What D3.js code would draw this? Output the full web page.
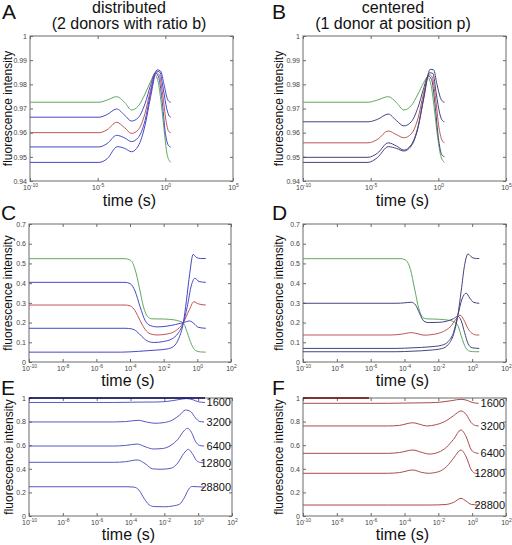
<!DOCTYPE html>
<html><head><meta charset="utf-8">
<script src="https://cdn.jsdelivr.net/npm/d3@7"></script>
<style>body{margin:0;background:#fff}svg{display:block}text{font-family:"Liberation Sans",Arial,sans-serif}</style>
</head><body><svg id="c" width="512" height="545"></svg>
<script>
// ---------- tick values ----------
const xTicksRow1 = [-10, -5, 0, 5];
const xTicksRow23 = [-10, -8, -6, -4, -2, 0, 2];
const yTicksAB = [0.94, 0.95, 0.96, 0.97, 0.98, 0.99, 1];
const yTicksCD = [0, 0.1, 0.2, 0.3, 0.4, 0.5, 0.6, 0.7];
const yTicksEF = [0, 0.2, 0.4, 0.6, 0.8, 1];
const levelLabels = ["1600", "3200", "6400", "12800", "28800"];

// ---------- data: [log10(time in s), fluorescence intensity] ----------
const A_green = [[-10,.9726],[-4.9,.9726],[-4.3,.9735],[-3.6,.9749],[-3.0,.9725],[-2.5,.9694],[-2.0,.9710],[-1.5,.9760],[-1.1,.9810],[-0.8,.9840],[-0.55,.9815],[-0.3,.9720],[-0.05,.9590],[0.15,.9505],[0.4,.9477]];
const A_blue1 = [[-10,.9664],[-4.9,.9664],[-4.3,.9675],[-3.6,.9698],[-3.0,.9672],[-2.5,.9648],[-2.0,.9662],[-1.5,.9720],[-1.1,.9795],[-0.75,.9848],[-0.5,.9830],[-0.25,.9740],[0.0,.9600],[0.2,.9550],[0.4,.9540]];
const A_red = [[-10,.9600],[-4.9,.9600],[-4.3,.9612],[-3.6,.9643],[-3.0,.9620],[-2.5,.9597],[-2.0,.9612],[-1.5,.9680],[-1.1,.9775],[-0.7,.9850],[-0.45,.9840],[-0.2,.9760],[0.05,.9650],[0.25,.9605],[0.4,.9600]];
const A_blue3 = [[-10,.9541],[-4.9,.9541],[-4.3,.9555],[-3.6,.9589],[-3.0,.9578],[-2.5,.9563],[-2.0,.9580],[-1.5,.9650],[-1.1,.9760],[-0.65,.9855],[-0.4,.9850],[-0.15,.9780],[0.1,.9700],[0.3,.9668],[0.4,.9664]];
const A_blue4 = [[-10,.9477],[-4.9,.9477],[-4.3,.9492],[-3.55,.9542],[-3.0,.9535],[-2.5,.9521],[-2.0,.9545],[-1.5,.9630],[-1.1,.9745],[-0.6,.9860],[-0.35,.9855],[-0.1,.9800],[0.15,.9740],[0.3,.9728],[0.4,.9726]];

const B_green = [[-10,.9726],[-5.2,.9726],[-4.5,.9735],[-3.7,.9749],[-3.1,.9725],[-2.55,.9694],[-2.0,.9712],[-1.5,.9760],[-1.1,.9805],[-0.8,.9830],[-0.55,.9800],[-0.3,.9700],[-0.05,.9580],[0.2,.9500],[0.45,.9477]];
const B_blue1 = [[-10,.9645],[-5.2,.9645],[-4.5,.9655],[-3.7,.9677],[-3.1,.9650],[-2.55,.9628],[-2.0,.9645],[-1.5,.9705],[-1.1,.9780],[-0.75,.9835],[-0.5,.9820],[-0.25,.9720],[0.0,.9580],[0.25,.9510],[0.45,.9500]];
const B_red = [[-10,.9558],[-5.2,.9558],[-4.5,.9572],[-3.7,.9607],[-3.1,.9592],[-2.55,.9579],[-2.0,.9595],[-1.5,.9660],[-1.1,.9760],[-0.7,.9840],[-0.45,.9830],[-0.2,.9740],[0.05,.9620],[0.3,.9565],[0.45,.9558]];
const B_blue3 = [[-10,.9498],[-5.2,.9498],[-4.5,.9515],[-3.7,.9558],[-3.1,.9545],[-2.55,.9528],[-2.0,.9550],[-1.5,.9625],[-1.1,.9740],[-0.65,.9848],[-0.4,.9845],[-0.15,.9760],[0.1,.9680],[0.3,.9650],[0.45,.9645]];
const B_blue4 = [[-10,.9477],[-5.2,.9477],[-4.5,.9497],[-3.7,.9542],[-3.1,.9535],[-2.55,.9524],[-2.0,.9545],[-1.5,.9620],[-1.1,.9735],[-0.6,.9862],[-0.35,.9860],[-0.1,.9800],[0.15,.9745],[0.35,.9728],[0.45,.9726]];

const C_green = [[-10,.524],[-4.3,.524],[-3.95,.515],[-3.7,.47],[-3.45,.38],[-3.2,.28],[-2.95,.23],[-2.7,.219],[-2.0,.218],[-1.4,.214],[-1.1,.208],[-0.83,.198],[-0.6,.15],[-0.35,.09],[-0.1,.058],[0.2,.051],[0.5,.05]];
const C_blue1 = [[-10,.404],[-4.3,.404],[-4.0,.398],[-3.7,.36],[-3.4,.28],[-3.1,.21],[-2.8,.185],[-2.4,.178],[-1.8,.182],[-1.3,.19],[-0.83,.200],[-0.45,.208],[-0.2,.195],[0.05,.176],[0.5,.171]];
const C_red = [[-10,.289],[-4.3,.289],[-4.0,.285],[-3.7,.26],[-3.4,.21],[-3.1,.165],[-2.8,.143],[-2.4,.137],[-1.8,.142],[-1.3,.158],[-0.83,.200],[-0.5,.26],[-0.2,.306],[0.05,.295],[0.5,.289]];
const C_blue3 = [[-10,.171],[-4.3,.171],[-3.9,.168],[-3.6,.155],[-3.3,.13],[-3.0,.108],[-2.6,.099],[-2.0,.104],[-1.5,.118],[-1.15,.145],[-0.83,.200],[-0.6,.28],[-0.35,.39],[-0.14,.425],[0.1,.408],[0.5,.404]];
const C_blue4 = [[-10,.05],[-4.5,.05],[-3.5,.054],[-2.5,.06],[-1.8,.066],[-1.4,.08],[-1.1,.12],[-0.83,.200],[-0.65,.31],[-0.45,.45],[-0.25,.546],[-0.05,.53],[0.2,.525],[0.5,.525]];

const D_green = [[-10,.524],[-4.2,.524],[-3.9,.515],[-3.65,.47],[-3.4,.37],[-3.15,.27],[-2.9,.225],[-2.7,.219],[-2.0,.217],[-1.4,.212],[-1.1,.205],[-0.85,.185],[-0.6,.12],[-0.4,.075],[-0.15,.055],[0.2,.052],[0.42,.052]];
const D_blue1 = [[-10,.298],[-4.5,.298],[-4.0,.300],[-3.6,.303],[-3.35,.29],[-3.1,.245],[-2.85,.207],[-2.6,.2],[-2.0,.201],[-1.5,.207],[-1.1,.22],[-0.85,.232],[-0.65,.21],[-0.45,.15],[-0.25,.095],[0,.072],[0.42,.069]];
const D_red = [[-10,.137],[-4.8,.137],[-4.2,.141],[-3.6,.149],[-3.2,.143],[-2.85,.136],[-2.3,.140],[-1.7,.155],[-1.3,.178],[-0.95,.218],[-0.72,.238],[-0.5,.215],[-0.25,.17],[0.0,.145],[0.26,.137],[0.42,.137]];
const D_blue3 = [[-10,.069],[-4.5,.069],[-3.5,.072],[-2.5,.077],[-1.8,.085],[-1.4,.105],[-1.1,.15],[-0.85,.235],[-0.6,.32],[-0.35,.349],[-0.15,.325],[0.1,.302],[0.42,.298]];
const D_blue4 = [[-10,.052],[-4.5,.052],[-3.5,.055],[-2.5,.06],[-1.8,.068],[-1.4,.09],[-1.1,.14],[-0.85,.235],[-0.65,.36],[-0.45,.49],[-0.25,.548],[0.0,.53],[0.25,.525],[0.42,.525]];

const E_top = [[-10,1],[0.4,1]];
const E_1600 = [[-10,.962],[-5,.962],[-3.5,.965],[-2.5,.966],[-1.8,.972],[-1.2,.985],[-0.7,.995],[-0.3,.985],[0.0,.968],[0.4,.962]];
const E_3200 = [[-10,.797],[-5,.797],[-4.3,.800],[-3.55,.811],[-3.0,.795],[-2.55,.786],[-2.0,.792],[-1.5,.815],[-1.1,.855],[-0.75,.898],[-0.45,.885],[-0.15,.83],[0.1,.80],[0.35,.797]];
const E_6400 = [[-10,.593],[-5,.593],[-4.3,.598],[-3.6,.61],[-3.1,.585],[-2.65,.568],[-2.1,.572],[-1.6,.60],[-1.2,.65],[-0.85,.72],[-0.64,.743],[-0.4,.71],[-0.15,.63],[0.1,.597],[0.35,.593]];
const E_12800 = [[-10,.455],[-5,.455],[-4.3,.460],[-3.6,.475],[-3.1,.44],[-2.7,.40],[-2.2,.396],[-1.6,.405],[-1.2,.45],[-0.85,.53],[-0.58,.565],[-0.35,.53],[-0.1,.47],[0.15,.453],[0.35,.45]];
const E_28800 = [[-10,.248],[-4.2,.248],[-3.8,.245],[-3.5,.22],[-3.2,.15],[-2.9,.095],[-2.6,.08],[-2.0,.078],[-1.5,.085],[-1.1,.10],[-0.8,.16],[-0.55,.23],[-0.35,.25],[0.0,.248],[0.35,.245]];

const F_top = [[-10,1],[-6.1,1]];
const F_1600 = [[-10,.955],[-5,.955],[-3.5,.958],[-2.5,.96],[-1.8,.966],[-1.2,.978],[-0.66,.989],[-0.3,.98],[0.0,.962],[0.38,.955]];
const F_3200 = [[-10,.763],[-5,.763],[-4.3,.768],[-3.52,.79],[-3.0,.773],[-2.7,.763],[-2.1,.775],[-1.5,.81],[-1.1,.85],[-0.66,.89],[-0.35,.86],[-0.05,.79],[0.2,.766],[0.38,.763]];
const F_6400 = [[-10,.531],[-5,.531],[-4.3,.538],[-3.5,.559],[-3.0,.54],[-2.54,.525],[-2.0,.54],[-1.5,.585],[-1.1,.65],[-0.66,.729],[-0.35,.67],[-0.05,.56],[0.2,.535],[0.38,.531]];
const F_12800 = [[-10,.362],[-5,.362],[-4.3,.368],[-3.5,.39],[-3.0,.37],[-2.6,.362],[-2.0,.375],[-1.5,.42],[-1.1,.49],[-0.66,.559],[-0.35,.50],[-0.05,.39],[0.2,.362],[0.38,.36]];
const F_28800 = [[-10,.093],[-5,.093],[-2.5,.093],[-1.6,.097],[-1.1,.115],[-0.66,.15],[-0.35,.125],[-0.05,.098],[0.38,.093]];

// ---------- colours ----------
const cGreen = "#5fa85f", cRed = "#c05555", cBlue = "#4848c8", cNavy = "#44447e";
const cEBlue = "#5757c4", cFRed = "#aa4a4a";

const svg = d3.select("#c");
svg.append("rect").attr("width",512).attr("height",545).attr("fill","#fff");

const panels = [
  {L:"A", x0:30, x1:233, y0:36, y1:181, xd:[-10,5], yd:[0.94,1], xt:xTicksRow1, yt:yTicksAB, ylx:12, lx:2, ly:19, tly:206,
   series:[[A_green,cGreen],[A_blue1,cBlue],[A_red,cRed],[A_blue3,cBlue],[A_blue4,cBlue]]},
  {L:"B", x0:303, x1:506, y0:36, y1:181, xd:[-10,5], yd:[0.94,1], xt:xTicksRow1, yt:yTicksAB, ylx:283, lx:272, ly:19, tly:206,
   series:[[B_green,cGreen],[B_blue1,cNavy],[B_red,cRed],[B_blue3,cNavy],[B_blue4,cNavy]]},
  {L:"C", x0:29, x1:231, y0:224, y1:362, xd:[-10,2], yd:[0,0.7], xt:xTicksRow23, yt:yTicksCD, ylx:12, lx:1, ly:220, tly:386,
   series:[[C_green,cGreen],[C_blue1,cBlue],[C_red,cRed],[C_blue3,cBlue],[C_blue4,cBlue]]},
  {L:"D", x0:303, x1:506, y0:224, y1:362, xd:[-10,2], yd:[0,0.7], xt:xTicksRow23, yt:yTicksCD, ylx:283, lx:272, ly:220, tly:386,
   series:[[D_green,cGreen],[D_blue1,cNavy],[D_red,cRed],[D_blue3,cNavy],[D_blue4,cNavy]]},
  {L:"E", x0:29, x1:232, y0:398, y1:516, xd:[-10,2], yd:[0,1], xt:xTicksRow23, yt:yTicksEF, ylx:13, lx:1, ly:395, tly:540,
   series:[[E_1600,cEBlue],[E_3200,cEBlue],[E_6400,cEBlue],[E_12800,cEBlue],[E_28800,cEBlue]], top:[E_top,"#0a0a5a"]},
  {L:"F", x0:303, x1:506, y0:398, y1:516, xd:[-10,2], yd:[0,1], xt:xTicksRow23, yt:yTicksEF, ylx:283, lx:272, ly:395, tly:540,
   series:[[F_1600,cFRed],[F_3200,cFRed],[F_6400,cFRed],[F_12800,cFRed],[F_28800,cFRed]], top:[F_top,"#6a0a0a"]}
];

const fmtY = d => String(+d.toFixed(2));

panels.forEach(p => {
  const g = svg.append("g");
  const x = d3.scaleLog().domain([Math.pow(10,p.xd[0]), Math.pow(10,p.xd[1])]).range([p.x0,p.x1]);
  const y = d3.scaleLinear().domain(p.yd).range([p.y1,p.y0]);
  const xv = p.xt.map(e => Math.pow(10,e));

  g.append("rect").attr("x",p.x0).attr("y",p.y0).attr("width",p.x1-p.x0).attr("height",p.y1-p.y0)
    .attr("fill","none").attr("stroke","#6a6a6a").attr("stroke-width",1);

  const styleAxis = sel => { sel.select(".domain").remove(); sel.selectAll(".tick line").attr("stroke","#6a6a6a"); };
  const bx = g.append("g").attr("transform",`translate(0,${p.y1})`)
    .call(d3.axisBottom(x).tickValues(xv).tickSizeInner(-3).tickSizeOuter(0).tickFormat(""));
  styleAxis(bx);
  bx.selectAll(".tick text").remove();
  bx.selectAll(".tick").append("text").attr("y",9).attr("text-anchor","middle")
    .attr("font-size",7).attr("fill","#444")
    .each(function(d){
      const t = d3.select(this);
      t.append("tspan").text("10");
      t.append("tspan").attr("dy",-3).attr("font-size",5).text(Math.round(Math.log10(d)));
    });
  styleAxis(g.append("g").attr("transform",`translate(0,${p.y0})`)
    .call(d3.axisTop(x).tickValues(xv).tickSizeInner(-3).tickSizeOuter(0).tickFormat("")));
  const ly = g.append("g").attr("transform",`translate(${p.x0},0)`)
    .call(d3.axisLeft(y).tickValues(p.yt).tickSizeInner(-3).tickSizeOuter(0).tickPadding(3).tickFormat(fmtY));
  styleAxis(ly);
  ly.selectAll(".tick text").attr("font-size",7).attr("fill","#444").attr("font-family","Liberation Sans, Arial, sans-serif");
  styleAxis(g.append("g").attr("transform",`translate(${p.x1},0)`)
    .call(d3.axisRight(y).tickValues(p.yt).tickSizeInner(-3).tickSizeOuter(0).tickFormat("")));

  const line = d3.line().x(d => x(Math.pow(10,d[0]))).y(d => y(d[1])).curve(d3.curveMonotoneX);
  p.series.forEach(([pts,col]) => {
    g.append("path").attr("d",line(pts)).attr("fill","none").attr("stroke",col).attr("stroke-width",1);
  });
  if (p.top) {
    g.append("path").attr("d",line(p.top[0])).attr("fill","none").attr("stroke",p.top[1]).attr("stroke-width",1.6);
  }
  if (p.L === "E" || p.L === "F") {
    p.series.forEach(([pts], i) => {
      const last = pts[pts.length-1];
      g.append("text").attr("x",p.x1-1).attr("y",y(last[1])).attr("dy","0.35em")
        .attr("text-anchor","end").attr("font-size",11).attr("fill","#111").text(levelLabels[i]);
    });
  }

  svg.append("text").attr("transform",`translate(${p.ylx},${(p.y0+p.y1)/2}) rotate(-90)`)
    .attr("text-anchor","middle").attr("font-size",12).attr("fill","#111").text("fluorescence intensity");
  svg.append("text").attr("x",(p.x0+p.x1)/2 - 2).attr("y",p.tly).attr("text-anchor","middle")
    .attr("font-size",16).attr("fill","#111").text("time (s)");
  svg.append("text").attr("x",p.lx).attr("y",p.ly).attr("font-size",21).attr("fill","#111").text(p.L);
});

const titles = [[129,"distributed","(2 donors with ratio b)"],[393,"centered","(1 donor at position p)"]];
titles.forEach(([cx,t1,t2]) => {
  svg.append("text").attr("x",cx).attr("y",13).attr("text-anchor","middle").attr("font-size",16).attr("fill","#111").text(t1);
  svg.append("text").attr("x",cx).attr("y",29).attr("text-anchor","middle").attr("font-size",16).attr("fill","#111").text(t2);
});
</script></body></html>
